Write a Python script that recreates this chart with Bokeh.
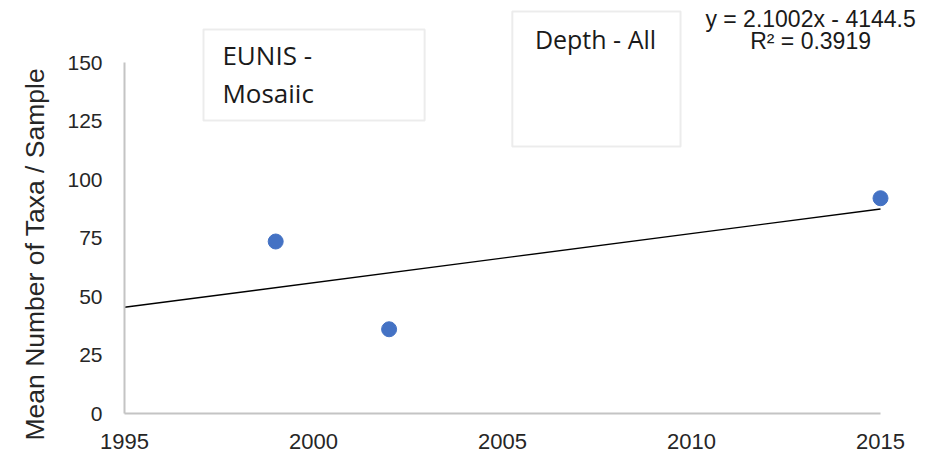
from bokeh.plotting import figure
from bokeh.models import Range1d, FixedTicker, Label, BoxAnnotation, Title
from bokeh.embed import file_html
from bokeh.resources import INLINE

# ---- data ----
years = [1999, 2002, 2015]
mean_taxa = [73.5, 36.0, 92.0]
x_ticks = [1995, 2000, 2005, 2010, 2015]
y_ticks = [0, 25, 50, 75, 100, 125, 150]
trend_slope = 2.1002
trend_intercept = -4144.5
r_squared = 0.3919
box_habitat = ["EUNIS -", "Mosaiic"]
box_depth = "Depth - All"
y_title = "Mean Number  of Taxa / Sample"

X0, X1 = 1995, 2015
Y0, Y1 = 0, 150
# extra room above / right of the axes for the text boxes (layout only)
Y_TOP = 176.5
X_RIGHT = 2016.455

p = figure(width=935, height=461, output_backend="svg", toolbar_location=None,
           x_range=Range1d(X0, X_RIGHT), y_range=Range1d(Y0, Y_TOP),
           min_border_left=124, min_border_right=0,
           min_border_top=0, min_border_bottom=48)

p.outline_line_color = None
p.xgrid.visible = False
p.ygrid.visible = False
p.background_fill_color = "white"
p.border_fill_color = "white"

for ax in (p.xaxis[0], p.yaxis[0]):
    ax.axis_line_color = "#c4c4c4"
    ax.axis_line_width = 2
    ax.major_tick_line_color = None
    ax.minor_tick_line_color = None
    ax.major_tick_out = 0
    ax.major_tick_in = 0
    ax.minor_tick_out = 0
    ax.minor_tick_in = 0
    ax.major_label_text_font = "Liberation Sans"
    ax.major_label_text_color = "#262626"

p.xaxis.bounds = (X0, X1)
p.yaxis.bounds = (Y0, Y1)
p.xaxis.ticker = FixedTicker(ticks=x_ticks)
p.yaxis.ticker = FixedTicker(ticks=y_ticks)
p.xaxis.major_label_text_font_size = "22px"
p.yaxis.major_label_text_font_size = "21px"
p.xaxis.major_label_standoff = 20
p.yaxis.major_label_standoff = 22

# y-axis title as a side title so it can be positioned like the reference
p.add_layout(Title(text=y_title, align="left", offset=-27, standoff=30,
                   text_font="Liberation Sans", text_font_size="26.5px",
                   text_font_style="normal", text_color="#262626"), "left")

# trendline from the stated equation
tx = [X0, X1]
ty = [trend_slope * x + trend_intercept for x in tx]
p.line(tx, ty, line_color="black", line_width=1.4)

p.scatter(years, mean_taxa, size=15, fill_color="#4472C4", line_color="#4472C4")

# text boxes
p.add_layout(BoxAnnotation(left=1997.09, right=2002.94, bottom=125.2, top=164.1,
                           fill_color="white", fill_alpha=1.0,
                           line_color="#bfbfbf", line_width=2))
p.add_layout(BoxAnnotation(left=2005.26, right=2009.71, bottom=114.1, top=171.8,
                           fill_color="white", fill_alpha=1.0,
                           line_color="#bfbfbf", line_width=2))

p.add_layout(Label(x=1997.59, y=153.1, text=box_habitat[0], text_font="Open Sans",
                   text_font_size="26px", text_color="#1a1a1a", text_baseline="alphabetic"))
p.add_layout(Label(x=1997.59, y=136.9, text=box_habitat[1], text_font="Open Sans",
                   text_font_size="26px", text_color="#1a1a1a", text_baseline="alphabetic"))
p.add_layout(Label(x=2007.46, y=160.2, text=box_depth, text_font="Open Sans",
                   text_font_size="25px", text_color="#1a1a1a", text_align="center",
                   text_baseline="alphabetic"))

eq = f"y = {trend_slope:.4f}x - {abs(trend_intercept)}"
p.add_layout(Label(x=2013.15, y=168.6, text=eq, text_font="Liberation Sans",
                   text_font_size="23px", text_color="#1a1a1a", text_align="center",
                   text_baseline="alphabetic"))
p.add_layout(Label(x=2013.15, y=159.3, text=f"R\u00b2 = {r_squared}", text_font="Liberation Sans",
                   text_font_size="23px", text_color="#1a1a1a", text_align="center",
                   text_baseline="alphabetic"))

open("out.html", "w").write(file_html(p, INLINE))
